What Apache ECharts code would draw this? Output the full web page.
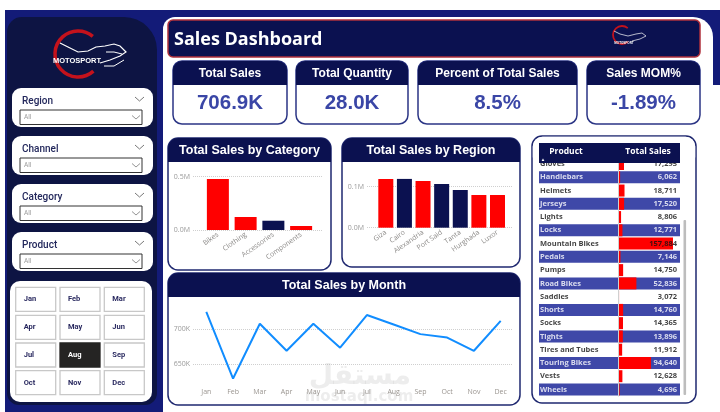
<!DOCTYPE html>
<html><head><meta charset="utf-8">
<script src="https://cdn.jsdelivr.net/npm/echarts/dist/echarts.min.js"></script>
<style>html,body{margin:0;padding:0;background:#fff}#c{width:720px;height:412px}</style>
</head><body><div id="c"></div>
<script>
// ---------- data ----------
const kpiTitles = ['Total Sales', 'Total Quantity', 'Percent of Total Sales', 'Sales MOM%'];
const kpiValues = ['706.9K', '28.0K', '8.5%', '-1.89%'];
const slicerLabels = ['Region', 'Channel', 'Category', 'Product'];
const slicerValues = ['All', 'All', 'All', 'All'];
const monthButtons = ['Jan','Feb','Mar','Apr','May','Jun','Jul','Aug','Sep','Oct','Nov','Dec'];
const selectedMonth = 'Aug';

const categories = ['Bikes', 'Clothing', 'Accessories', 'Components'];
const categorySales = [478000, 122000, 87000, 37500];
const categoryTicks = [0, 500000];

const regions = ['Giza', 'Cairo', 'Alexandria', 'Port Said', 'Tanta', 'Hurghada', 'Luxor'];
const regionSales = [118800, 119000, 113900, 106600, 92000, 79700, 79700];
const regionTicks = [0, 100000];

const months = ['Jan','Feb','Mar','Apr','May','Jun','Jul','Aug','Sep','Oct','Nov','Dec'];
const monthSales = [725000, 629000, 708000, 669000, 708000, 673500, 720500, 706900, 693000, 688000, 669000, 712000];
const monthTicks = [650000, 700000];

const products = ['Gloves','Handlebars','Helmets','Jerseys','Lights','Locks','Mountain Bikes','Pedals','Pumps','Road Bikes','Saddles','Shorts','Socks','Tights','Tires and Tubes','Touring Bikes','Vests','Wheels'];
const productSales = [17295, 6062, 18711, 17520, 8806, 12771, 157884, 7146, 14750, 52836, 3072, 14760, 14365, 13896, 11912, 94640, 12628, 4696];

// ---------- styles ----------
const FA = "'Liberation Sans', Arial, sans-serif";
const FO = "'Open Sans', 'Noto Sans', sans-serif";
const FR = "Roboto, 'Noto Sans', sans-serif";
const NAVY = '#0b1150';
const RED = '#ff0000';
const BLUE = '#3f48a8';
const catColors = [RED, RED, NAVY, RED];
const regionColors = [RED, NAVY, RED, NAVY, NAVY, RED, RED];

const G = [];
function R(x, y, w, h, fill, stroke, lw, r, z) {
  G.push({type: 'rect', silent: true, z: z || 0,
    shape: {x: x, y: y, width: w, height: h, r: r || 0},
    style: {fill: fill || 'none', stroke: stroke || 'none', lineWidth: lw || 0}});
}
function T(x, y, s, size, weight, color, fam, align, z) {
  G.push({type: 'text', silent: true, z: z || 1,
    style: {x: x, y: y, text: s, fontSize: size, fontWeight: weight, fontFamily: fam,
      fill: color, align: align || 'left', verticalAlign: 'middle'}});
}
function P(points, stroke, lw, z) {
  G.push({type: 'polyline', silent: true, z: z || 1, shape: {points: points},
    style: {stroke: stroke, lineWidth: lw, fill: 'none'}});
}
function A(cx, cy, r, a0, a1, stroke, lw, z) {
  G.push({type: 'arc', silent: true, z: z || 1,
    shape: {cx: cx, cy: cy, r: r, startAngle: a0 * Math.PI / 180, endAngle: a1 * Math.PI / 180, clockwise: true},
    style: {stroke: stroke, lineWidth: lw, fill: 'none'}});
}

// background frame
R(0, 0, 720, 412, '#fff');
R(5, 10, 715, 402, '#131b78');
R(712, 85, 8, 327, '#fff');
R(7, 17, 150, 388, '#0d1443', null, 0, [15, 33, 12, 12]);
R(163, 17, 550, 395, '#fff', null, 0, [12, 20, 0, 0]);

// left logo
A(78, 54, 23, 48, 310, '#c4121c', 3.5);
P([[60,43],[68,47],[78,52],[88,51],[96,47],[105,46],[114,44],[120,46],[126,52],[120,56],[110,60],[100,63]], '#fff', 1.2);
P([[104,66],[114,66],[124,60]], '#fff', 1);
P([[106,52],[114,52],[122,54]], '#fff', 1);
T(77, 61, 'MOTOSPORT', 7.5, 'bold', '#fff', FA, 'center', 3);

// slicers
const slicerTops = [88, 136, 184, 232];
slicerLabels.forEach(function (lab, i) {
  const y = slicerTops[i];
  R(12, y, 141, 39, '#fff', null, 0, 9, 1);
  T(22, y + 13, lab, 10, 500, '#23285c', FR, 'left', 2);
  P([[135, y + 9], [139.5, y + 13], [144, y + 9]], '#777', 1, 2);
  R(20, y + 22, 122, 14.5, '#fff', '#333', 1, 0, 2);
  T(24, y + 29.5, slicerValues[i], 6.5, 'normal', '#999', FR, 'left', 3);
  P([[132, y + 27.5], [136, y + 31], [140, y + 27.5]], '#888', 0.9, 3);
});

// month slicer
R(10, 281, 142, 121, '#fff', null, 0, 10, 1);
const colX = [15.7, 60, 104.3];
const rowY = [287.3, 315.3, 343, 370.7];
monthButtons.forEach(function (m, i) {
  const x = colX[i % 3], y = rowY[Math.floor(i / 3)];
  const sel = m === selectedMonth;
  R(x, y, 40, 24, sel ? '#252423' : '#fff', sel ? '#252423' : '#c8c8c8', 1.3, 0, 2);
  T(x + 8, y + 12, m, 7.5, 'bold', sel ? '#fff' : '#2a2a60', FR, 'left', 3);
});

// title bar
R(168, 20, 532, 37, NAVY, '#b0303c', 1.5, 5, 1);
T(174, 40, 'Sales Dashboard', 18, 'bold', '#fff', FO, 'left', 2);
A(622, 35, 9, 48, 310, '#c4121c', 1.8, 2);
P([[614,31],[620,34],[628,36],[636,34],[642,33],[646,36],[640,39],[632,41]], '#fff', 0.7, 2);
T(624, 43, 'MOTOSPORT', 3, 'bold', '#fff', FA, 'center', 2);

// KPI cards
const kpiBoxes = [[173, 114], [296, 112], [418, 159], [587, 113]];
kpiTitles.forEach(function (t, i) {
  const x = kpiBoxes[i][0], w = kpiBoxes[i][1];
  R(x, 61, w, 63, '#fff', '#2b3585', 1.5, 9, 1);
  R(x, 61, w, 24, NAVY, null, 0, [9, 9, 0, 0], 2);
  T(x + w / 2, 74, t, 12, 'bold', '#fff', FA, 'center', 3);
  T(x + w / 2, 103, kpiValues[i], 20.5, 'bold', '#3a46a6', FA, 'center', 3);
});

// chart cards
function card(x, y, w, h, title, ty) {
  R(x, y, w, h, '#fff', '#1f2870', 1.5, 10, 1);
  R(x, y, w, 24, NAVY, null, 0, [10, 10, 0, 0], 1.2);
  T(x + w / 2, ty, title, 12.5, 'bold', '#fff', FA, 'center', 1.3);
}
card(168, 138, 163, 132, 'Total Sales by Category', 151);
card(342, 138, 178, 129, 'Total Sales by Region', 151);
card(168, 273, 352, 132, 'Total Sales by Month', 286);

// table card
R(532, 136, 164, 267, '#fff', '#1f2870', 1.5, 10, 1);
R(532.8, 136.8, 162.4, 20.6, '#fff', null, 0, [10, 10, 0, 0], 99);
R(539, 143, 141, 20, NAVY, null, 0, 0, 100);
T(566, 152, 'Product', 8.5, 'bold', '#fff', FO, 'center', 101);
T(648, 152, 'Total Sales', 8.5, 'bold', '#fff', FO, 'center', 101);
T(543, 159.5, '\u25B2', 4.5, 'normal', '#fff', FA, 'center', 101);
R(683.5, 220, 2.6, 175, '#bdbdbd', null, 0, 1, 3);

// watermark
T(360, 377, '\u0645\u0633\u062A\u0642\u0644', 28, 'bold', 'rgba(150,150,150,0.17)', "'DejaVu Sans', sans-serif", 'center', 60);
T(359, 397, 'mostaql.com', 15, 'bold', 'rgba(150,150,150,0.17)', "'DejaVu Sans', sans-serif", 'center', 60);

// ---------- axes ----------
const gridLine = {show: true, lineStyle: {type: 'dotted', color: '#cfcfcf', width: 1}};
const tickLab = {fontSize: 7, color: '#999', fontFamily: FO, margin: 3};
function hiddenVal(gi, min, max) { return {gridIndex: gi, type: 'value', show: false, min: min, max: max}; }
function helperY(gi, ticks, fmt) {
  return {gridIndex: gi, type: 'value', z: 1.5, min: ticks[0], max: ticks[ticks.length - 1],
    interval: ticks[1] - ticks[0], axisLine: {show: false}, axisTick: {show: false},
    axisLabel: Object.assign({formatter: fmt}, tickLab), splitLine: gridLine};
}
function catX(gi, data, rot, extra) {
  return Object.assign({gridIndex: gi, type: 'category', data: data, z: 1.5,
    axisLine: {show: false}, axisTick: {show: false},
    axisLabel: {rotate: rot, interval: 0, fontSize: 7, color: '#8c8a88', fontFamily: FO, margin: 4}}, extra || {});
}
const fmtM = function (v) { return (v / 1e6).toFixed(1) + 'M'; };
const fmtK = function (v) { return Math.round(v / 1000) + 'K'; };

const option = {
  animation: false,
  backgroundColor: '#fff',
  graphic: {elements: G},
  grid: [
    {left: 193, top: 176.7, width: 130, height: 53.3, outerBoundsMode: 'none'},
    {left: 204, top: 176.7, width: 111, height: 53.3, outerBoundsMode: 'none'},
    {left: 367, top: 186.7, width: 145, height: 41, outerBoundsMode: 'none'},
    {left: 376.5, top: 178.5, width: 130.3, height: 49.2, outerBoundsMode: 'none'},
    {left: 193, top: 329.3, width: 319, height: 34.7, outerBoundsMode: 'none'},
    {left: 206.3, top: 301.5, width: 294.4, height: 83.3, outerBoundsMode: 'none'},
    {left: 539, top: 157.4, width: 141, height: 238.7, outerBoundsMode: 'none'},
    {left: 618, top: 157.4, width: 62, height: 238.7, outerBoundsMode: 'none'}
  ],
  xAxis: [
    hiddenVal(0, 0, 1),
    catX(1, categories, 35),
    hiddenVal(2, 0, 1),
    catX(3, regions, 35),
    hiddenVal(4, 0, 1),
    catX(5, months, 0, {boundaryGap: false, axisLabel: {interval: 0, fontSize: 7, color: '#9a9590', fontFamily: FO, margin: 4}}),
    hiddenVal(6, 0, 1),
    hiddenVal(7, 0, 178000)
  ],
  yAxis: [
    helperY(0, categoryTicks, fmtM),
    hiddenVal(1, 0, 500000),
    helperY(2, regionTicks, fmtM),
    hiddenVal(3, 0, 120000),
    helperY(4, monthTicks, fmtK),
    hiddenVal(5, 620000, 740000),
    {gridIndex: 6, type: 'category', data: products, inverse: true, show: false},
    {gridIndex: 7, type: 'category', data: products, inverse: true, z: 10,
      axisLine: {show: true, lineStyle: {color: '#d0d0d0', width: 1}}, axisTick: {show: false}, axisLabel: {show: false}}
  ],
  series: [
    {type: 'line', xAxisIndex: 0, yAxisIndex: 0, data: []},
    {type: 'bar', xAxisIndex: 1, yAxisIndex: 1, barWidth: 22, silent: true, z: 3,
      data: categorySales.map(function (v, i) { return {value: v, itemStyle: {color: catColors[i]}}; })},
    {type: 'line', xAxisIndex: 2, yAxisIndex: 2, data: []},
    {type: 'bar', xAxisIndex: 3, yAxisIndex: 3, barWidth: 15, silent: true, z: 3,
      data: regionSales.map(function (v, i) { return {value: v, itemStyle: {color: regionColors[i]}}; })},
    {type: 'line', xAxisIndex: 4, yAxisIndex: 4, data: []},
    {type: 'line', xAxisIndex: 5, yAxisIndex: 5, data: monthSales, showSymbol: false, silent: true, z: 12,
      lineStyle: {color: '#118dff', width: 2}, itemStyle: {color: '#118dff'}},
    {type: 'bar', xAxisIndex: 6, yAxisIndex: 6, barWidth: 12, silent: true, z: 1.6,
      data: products.map(function (p, i) { return {value: 1, itemStyle: {color: i % 2 ? BLUE : '#fff'}}; })},
    {type: 'bar', xAxisIndex: 7, yAxisIndex: 7, barWidth: 12, silent: true, z: 2,
      itemStyle: {color: RED}, data: productSales},
    {type: 'scatter', xAxisIndex: 6, yAxisIndex: 6, symbolSize: 0, silent: true, z: 15,
      data: products.map(function (p, i) { return {value: [0, p], label: {color: i % 2 ? '#fff' : '#111'}}; }),
      label: {show: true, position: 'right', distance: 1, fontSize: 7.5, fontWeight: 'bold', fontFamily: FO,
        formatter: function (p) { return p.value[1]; }}},
    {type: 'scatter', xAxisIndex: 7, yAxisIndex: 7, symbolSize: 0, silent: true, z: 15,
      data: products.map(function (p, i) { return {value: [178000, p], label: {color: i % 2 ? '#fff' : '#111'}}; }),
      label: {show: true, position: 'left', distance: 3, fontSize: 7.5, fontWeight: 'bold', fontFamily: FO,
        formatter: function (p) { return productSales[p.dataIndex].toLocaleString('en-US'); }}}
  ]
};
const chart = echarts.init(document.getElementById('c'), null, {renderer: 'canvas'});
chart.setOption(option);
</script>
</body></html>
